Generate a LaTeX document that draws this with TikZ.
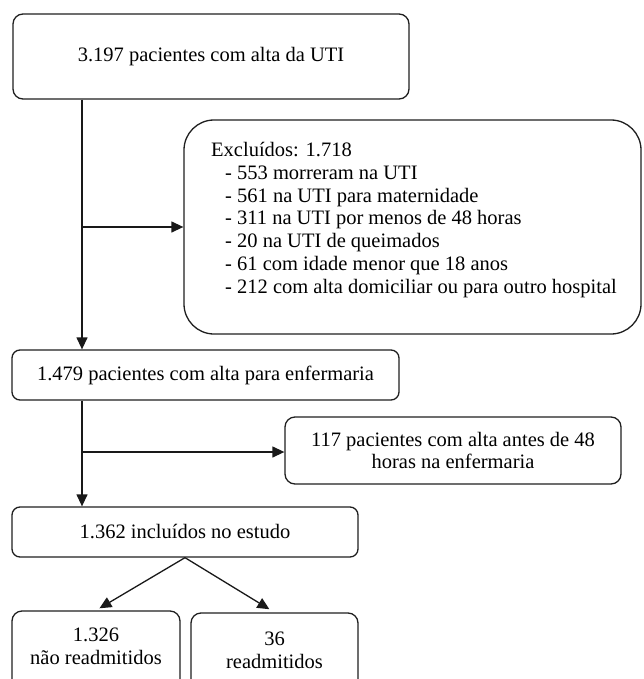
\documentclass[tikz,border=0pt]{standalone}
\usepackage{fontspec}
\setmainfont{Liberation Serif}
\usetikzlibrary{arrows.meta,calc}
\begin{document}
\begin{tikzpicture}[x=1pt,y=-1pt,
  box/.style={draw=black!88, line width=1.3pt, rounded corners=10pt, inner sep=0pt, align=center, font=\fontsize{20.5pt}{22.5pt}\selectfont},
  arr/.style={draw=black!90, line width=1.3pt, -{Triangle[length=12pt,width=11pt]}},
  txt/.style={inner sep=0pt, align=center, font=\fontsize{20.5pt}{23pt}\selectfont}]
\useasboundingbox (0,0) rectangle (643,679);
\node[box, minimum width=396pt, minimum height=85pt] (b1) at (211,56.5) {3.197 pacientes com alta da UTI};
\node[box, rounded corners=30pt, minimum width=457pt, minimum height=214pt] (exc) at (412.5,227) {};
\node[anchor=north west, inner sep=0pt, align=left, font=\fontsize{20.5pt}{22.8pt}\selectfont] (exct) at (211,142) {Excluídos: 1.718\\
\hspace*{14pt}- 553 morreram na UTI\\
\hspace*{14pt}- 561 na UTI para maternidade\\
\hspace*{14pt}- 311 na UTI por menos de 48 horas\\
\hspace*{14pt}- 20 na UTI de queimados\\
\hspace*{14pt}- 61 com idade menor que 18 anos\\
\hspace*{14pt}- 212 com alta domiciliar ou para outro hospital};
\node[box, rounded corners=8pt, minimum width=387pt, minimum height=50pt] (b2) at (205.5,375) {1.479 pacientes com alta para enfermaria};
\node[box, minimum width=336pt, minimum height=67pt] (b117) at (453,450.5) {117 pacientes com alta antes de 48\\horas na enfermaria};
\node[box, rounded corners=8pt, minimum width=346pt, minimum height=50pt] (b4) at (185,532) {1.362 incluídos no estudo};
\node[box, minimum width=168pt, minimum height=89pt] (b5) at (96,655.5) {};
\node[txt] (t5) at (96,646.5) {1.326\\não readmitidos};
\node[box, minimum width=167pt, minimum height=87pt] (b6) at (274.5,656.5) {};
\node[txt] (t6) at (274.5,650) {36\\readmitidos};
\coordinate (j1) at (82,227);
\coordinate (j2) at (82,452);
\draw[arr] (b1.south -| j1) -- (b2.north -| j1);
\draw[arr] (j1) -- (exc.west |- j1);
\draw[arr] (b2.south -| j2) -- (b4.north -| j2);
\draw[arr] (j2) -- (b117.west |- j2);
\draw[arr, shorten >=4pt] (b4.south) -- (b5.north);
\draw[arr, shorten >=6pt] (b4.south) -- (b6.north);
\end{tikzpicture}
\end{document}
